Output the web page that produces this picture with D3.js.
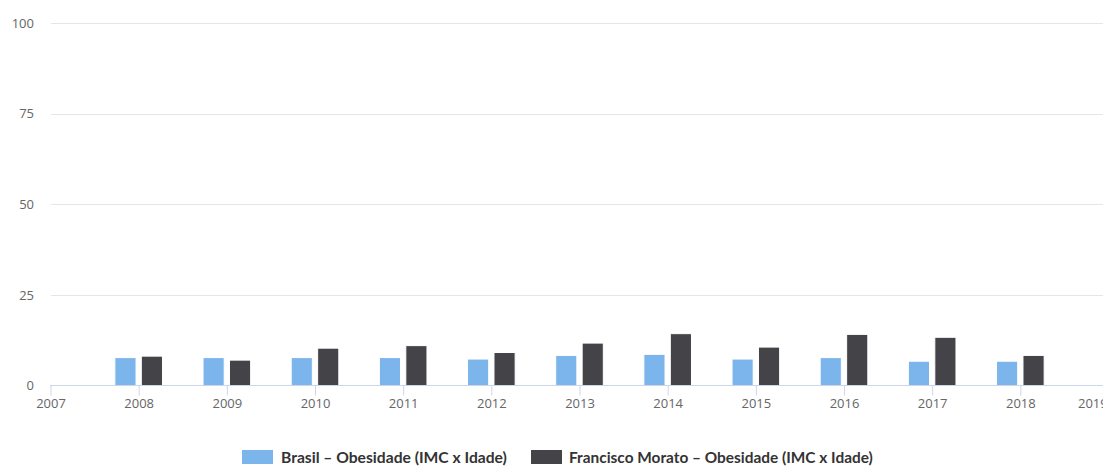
<!DOCTYPE html>
<html>
<head>
<meta charset="utf-8">
<script src="https://cdn.jsdelivr.net/npm/d3@7"></script>
<style>
  html, body { margin: 0; padding: 0; background: #ffffff; overflow: hidden; }
  svg { display: block; }
</style>
</head>
<body>
<svg id="chart" width="1103" height="466"></svg>
<script>
const years = [2008, 2009, 2010, 2011, 2012, 2013, 2014, 2015, 2016, 2017, 2018];
const brasil = [7.7, 7.7, 7.7, 7.7, 7.3, 8.3, 8.6, 7.3, 7.7, 6.7, 6.7];
const morato = [8.1, 7.0, 10.3, 11.0, 9.1, 11.7, 14.3, 10.6, 14.1, 13.3, 8.3];
const seriesNames = ["Brasil – Obesidade (IMC x Idade)", "Francisco Morato – Obesidade (IMC x Idade)"];
const seriesColors = ["#7cb5ec", "#434348"];
const yTicks = [0, 25, 50, 75, 100];
const xTicks = [2007, 2008, 2009, 2010, 2011, 2012, 2013, 2014, 2015, 2016, 2017, 2018, 2019];

const svg = d3.select("#chart");
const W = 1103;

const x = d3.scaleLinear().domain([2007, 2019]).range([50.5, 1108.5]);
const y = d3.scaleLinear().domain([0, 100]).range([385.5, 23]);
const step = x(1) - x(0);

// gridlines
const grid = svg.append("g");
yTicks.filter(t => t !== 0).forEach(t => {
  grid.append("line")
    .attr("x1", 51).attr("x2", W)
    .attr("y1", Math.round(y(t)) + 0.5).attr("y2", Math.round(y(t)) + 0.5)
    .attr("stroke", "#e6e6e6").attr("stroke-width", 1);
});

// y labels
const yAxis = d3.axisLeft(y).tickValues(yTicks).tickSize(0).tickPadding(0);
const yg = svg.append("g").attr("transform", "translate(34,0)").call(yAxis);
yg.select(".domain").remove();
yg.selectAll("text")
  .attr("fill", "#666666")
  .style("font-family", "'Open Sans', sans-serif")
  .style("font-size", "13px");

// bars
const series = [brasil, morato];
const pointWidth = step * 0.6 / 2;
const barsG = svg.append("g");
series.forEach((vals, si) => {
  barsG.selectAll(null).data(years.map((yr, i) => ({ yr, v: vals[i] })))
    .enter().append("rect")
    .attr("x", d => x(d.yr - 0.3) + si * pointWidth + 0.1 * pointWidth)
    .attr("width", pointWidth * 0.8)
    .attr("y", d => y(d.v))
    .attr("height", d => y(0) - y(d.v))
    .attr("fill", seriesColors[si])
    .attr("stroke", "#ffffff")
    .attr("stroke-width", 1);
});

// x axis
const xAxis = d3.axisBottom(x).tickValues(xTicks).tickFormat(d3.format("d")).tickSize(10).tickPadding(3).tickSizeOuter(0);
const xg = svg.append("g").attr("transform", "translate(0,385.5)").call(xAxis);
xg.select(".domain").attr("stroke", "#ccd6eb").attr("d", `M50,0H${W}`);
xg.selectAll(".tick line").attr("stroke", "#ccd6eb");
xg.selectAll("text")
  .attr("fill", "#666666")
  .style("font-family", "'Open Sans', sans-serif")
  .style("font-size", "13px");
// last label is pulled inward partially, as in the original
xg.selectAll(".tick").filter(d => d === 2019).select("text")
  .attr("text-anchor", "start")
  .attr("x", 1077.5 - x(2019));

// legend
const legend = svg.append("g");
const legendItems = [{ sx: 242, tx: 281, w: 226 }, { sx: 531, tx: 569, w: 304 }];
seriesNames.forEach((name, i) => {
  legend.append("rect")
    .attr("x", legendItems[i].sx).attr("y", 450)
    .attr("width", 31).attr("height", 14)
    .attr("fill", seriesColors[i]);
  const t = legend.append("text")
    .attr("x", legendItems[i].tx).attr("y", 463)
    .attr("fill", "#333333")
    .style("font-family", "Lato, sans-serif")
    .style("font-weight", "bold")
    .style("font-size", "14px")
    .text(name);
  const len = t.node().getComputedTextLength();
  if (len > 0) t.style("font-size", (14 * legendItems[i].w / len).toFixed(2) + "px");
});
</script>
</body>
</html>
